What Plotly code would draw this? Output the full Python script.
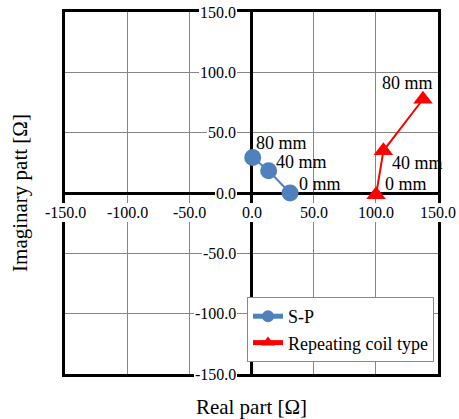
import plotly.graph_objects as go

# ---- data ----
sp_x = [31.0, 13.8, 1.0]
sp_y = [0.0, 18.4, 29.4]
sp_labels = ["0 mm", "40 mm", "80 mm"]

rc_x = [100.2, 106.1, 137.9]
rc_y = [-1.5, 35.0, 77.7]
rc_labels = ["0 mm", "40 mm", "80 mm"]

tick_vals = [-150, -100, -50, 0, 50, 100, 150]
tick_text = ["-150.0", "-100.0", "-50.0", "0.0", "50.0", "100.0", "150.0"]

FONT = "Liberation Serif"
TICK_SIZE = 16
BLUE = "#4F81BD"
RED = "#FF0000"
GRID = "#868686"

fig = go.Figure()

fig.add_trace(go.Scatter(
    x=sp_x, y=sp_y, name="S-P", mode="lines+markers",
    line=dict(color=BLUE, width=2),
    marker=dict(symbol="circle", size=17, color=BLUE),
))
fig.add_trace(go.Scatter(
    x=rc_x, y=rc_y, name="Repeating coil type", mode="lines+markers",
    line=dict(color=RED, width=2),
    marker=dict(symbol="triangle-up", size=17, color=RED),
))

# data labels
sp_shift = [(7, 9), (5, 9), (1, 14.5)]
for x, y, t, (dx, dy) in zip(sp_x, sp_y, sp_labels, sp_shift):
    fig.add_annotation(x=x, y=y, xref="x", yref="y", text=t, showarrow=False,
                       xanchor="left", yanchor="middle", xshift=dx, yshift=dy,
                       font=dict(family=FONT, size=18, color="black"))
rc_shift = [("left", 6.5, 11), ("left", 6.5, -12), ("right", 12, 16.5)]
for x, y, t, (anc, dx, dy) in zip(rc_x, rc_y, rc_labels, rc_shift):
    fig.add_annotation(x=x, y=y, xref="x", yref="y", text=t, showarrow=False,
                       xanchor=anc, yanchor="middle", xshift=dx, yshift=dy,
                       font=dict(family=FONT, size=18, color="black"))

# tick labels placed at the axis crossing (Excel style, with white background)
for v, t in zip(tick_vals, tick_text):
    fig.add_annotation(x=v, y=0, xref="x", yref="y", text=t, showarrow=False,
                       xanchor="center", yanchor="middle", yshift=-19.7,
                       bgcolor="white", borderpad=1, borderwidth=0,
                       font=dict(family=FONT, size=TICK_SIZE, color="black"))
    fig.add_annotation(x=0, y=v, xref="x", yref="y", text=t, showarrow=False,
                       xanchor="right", yanchor="middle", xshift=-14.5,
                       bgcolor="white", borderpad=1, borderwidth=0,
                       font=dict(family=FONT, size=TICK_SIZE, color="black"))

axis_common = dict(range=[-150, 150], tickvals=tick_vals, showticklabels=False,
                   ticks="", showgrid=True, gridcolor=GRID, gridwidth=1,
                   zeroline=True, zerolinecolor="black", zerolinewidth=2.5,
                   showline=True, mirror=True, linecolor="black", linewidth=2.5,
                   automargin=False)

fig.update_layout(
    width=459, height=419,
    margin=dict(l=65, r=21, t=12, b=45, autoexpand=False),
    paper_bgcolor="white", plot_bgcolor="white",
    font=dict(family=FONT, color="black"),
    showlegend=True,
    xaxis=dict(**axis_common,
               title=dict(text="Real part [Ω]", font=dict(family=FONT, size=21), standoff=29)),
    yaxis=dict(**axis_common,
               title=dict(text="Imaginary patt [Ω]", font=dict(family=FONT, size=21), standoff=29)),
    legend=dict(x=0.488, y=0.2127, xanchor="left", yanchor="top",
                bgcolor="white", bordercolor="#888888", borderwidth=1,
                font=dict(family=FONT, size=18, color="black"),
                itemsizing="constant", itemwidth=30),
)

fig.write_html("out.html", config={"displayModeBar": False},
               post_script="document.body.style.margin='0px';")
